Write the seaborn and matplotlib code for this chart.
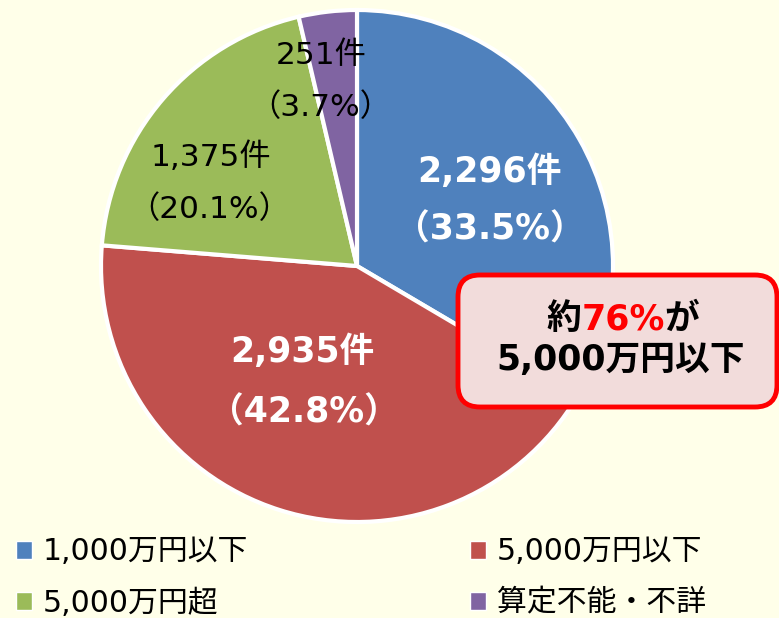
import matplotlib
matplotlib.use("Agg")
import matplotlib.pyplot as plt
import seaborn as sns
from matplotlib.patches import FancyBboxPatch, Patch
from matplotlib.legend import Legend
from matplotlib.offsetbox import TextArea, HPacker, AnnotationBbox

# ---- data ----
categories = ["1,000万円以下", "5,000万円以下", "5,000万円超", "算定不能・不詳"]
counts = [2296, 2935, 1375, 251]
percents = [33.5, 42.8, 20.1, 3.7]
callout_pre = "約"
callout_pct = "76%"
callout_post = "が"
callout_line2 = "5,000万円以下"

# ---- style ----
W, H = 779, 618
BG = "#FFFFE9"
sns.set_style("white")
plt.rcParams["font.family"] = ["DejaVu Sans", "Noto Sans CJK JP"]
plt.rcParams["text.color"] = "black"
colors = sns.color_palette(["#4F81BD", "#C0504D", "#9BBB59", "#8064A2"])


def Y(y):
    return H - y


fig = plt.figure(figsize=(W / 100, H / 100), dpi=100, facecolor=BG)
ax = fig.add_axes([0, 0, 1, 1])
ax.set_facecolor(BG)

wedges, _ = ax.pie(counts, colors=colors, startangle=90, counterclock=False,
                   center=(357, Y(266)), radius=256,
                   wedgeprops=dict(edgecolor="white", linewidth=3))
ax.set_xlim(0, W)
ax.set_ylim(0, H)
ax.set_aspect("auto")
ax.axis("off")

# slice labels
label_pos = [((490, 172), (490, 230)), ((302, 352), (304, 413)),
             ((211, 157), (209, 209)), ((321, 56), (320, 107))]
label_col = ["white", "white", "black", "black"]
label_wt = ["bold", "bold", "normal", "normal"]
label_fs = [25, 25, 22.5, 22.5]
for i in range(len(counts)):
    (x1, y1), (x2, y2) = label_pos[i]
    ax.text(x1, Y(y1), f"{counts[i]:,}件", ha="center", va="center",
            color=label_col[i], fontweight=label_wt[i], fontsize=label_fs[i])
    ax.text(x2, Y(y2), f"（{percents[i]}%）", ha="center", va="center",
            color=label_col[i], fontweight=label_wt[i], fontsize=label_fs[i])

# callout box
box = FancyBboxPatch((458, Y(407)), 319, 132,
                     boxstyle="round,pad=0,rounding_size=22",
                     fc="#F2DCDB", ec="#FF0000", lw=3.5, zorder=5)
ax.add_patch(box)
tp = dict(fontsize=25, fontweight="bold")
line1 = HPacker(children=[TextArea(callout_pre, textprops=dict(tp, color="black")),
                          TextArea(callout_pct, textprops=dict(tp, color="#FF0000")),
                          TextArea(callout_post, textprops=dict(tp, color="black"))],
                sep=0, pad=0, align="baseline")
ab = AnnotationBbox(line1, (623, Y(319)), xycoords="data", frameon=False,
                    box_alignment=(0.5, 0.5), zorder=6, pad=0)
ax.add_artist(ab)
ax.text(621, Y(360), callout_line2, ha="center", va="center", zorder=6,
        color="black", **tp)

# legend
leg_pos = [(16, 552), (470, 552), (16, 603), (470, 603)]
for i, cat in enumerate(categories):
    lx, ly = leg_pos[i]
    leg = Legend(ax, [Patch(fc=colors[i], ec="white", lw=1)], [cat],
                 loc="center left", bbox_to_anchor=(lx, Y(ly)),
                 bbox_transform=ax.transData, frameon=False, borderpad=0,
                 borderaxespad=0, handlelength=0.52, handleheight=0.52,
                 handletextpad=0.38, fontsize=21.5, labelcolor="black")
    ax.add_artist(leg)

fig.savefig("out.png", dpi=100, facecolor=BG)
